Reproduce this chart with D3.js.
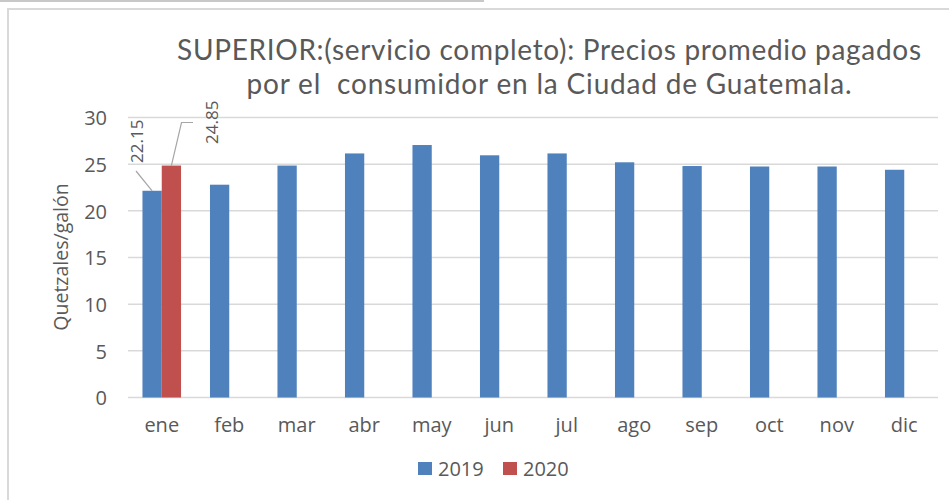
<!DOCTYPE html>
<html>
<head>
<meta charset="utf-8">
<script src="https://cdn.jsdelivr.net/npm/d3@7"></script>
<style>
  html, body { margin: 0; padding: 0; background: #fff; }
  svg { display: block; }
  text { font-family: "Open Sans", sans-serif; fill: #595959; white-space: pre; }
</style>
</head>
<body>
<svg id="chart" width="949" height="500"></svg>
<script>
// Monthly average prices (quetzales per gallon), Guatemala City
const months = ["ene", "feb", "mar", "abr", "may", "jun", "jul", "ago", "sep", "oct", "nov", "dic"];
const series = ["2019", "2020"];
const values2019 = [22.15, 22.8, 24.85, 26.15, 27.05, 25.95, 26.15, 25.2, 24.8, 24.75, 24.75, 24.4];
const values2020 = [24.85, null, null, null, null, null, null, null, null, null, null, null];
const yTicks = [0, 5, 10, 15, 20, 25, 30];
const colors = { "2019": "#4f81bd", "2020": "#c0504d" };
const titleLines = ["SUPERIOR:(servicio completo): Precios promedio pagados",
                    "por el  consumidor en la Ciudad de Guatemala."];
const titleWidths = [744, 605];
const yTitle = "Quetzales/galón";

const svg = d3.select("#chart");

// outer frame lines
svg.append("line").attr("x1", 0).attr("x2", 484).attr("y1", 1).attr("y2", 1)
  .attr("stroke", "#c8c8c8").attr("stroke-width", 2);
svg.append("rect").attr("x", 8).attr("y", 9).attr("width", 960).attr("height", 520)
  .attr("fill", "none").attr("stroke", "#d9d9d9").attr("stroke-width", 2);

const plot = { left: 128, right: 938, top: 117.5, bottom: 397.5 };

const x0 = d3.scaleBand().domain(months).range([plot.left, plot.right]).padding(0);
const groupW = x0.bandwidth() / 1.75;
const x1 = d3.scaleBand().domain(series).range([0, groupW]).padding(0);
const y = d3.scaleLinear().domain([0, 30]).range([plot.bottom, plot.top]);

// gridlines
svg.append("g").selectAll("line").data(yTicks).join("line")
  .attr("x1", plot.left).attr("x2", plot.right)
  .attr("y1", d => y(d)).attr("y2", d => y(d))
  .attr("stroke", "#d9d9d9").attr("stroke-width", 1.5);

// y axis labels
const yAxis = svg.append("g").attr("transform", `translate(${plot.left - 21},0)`)
  .call(d3.axisLeft(y).tickValues(yTicks).tickSize(0).tickPadding(0));
yAxis.select(".domain").remove();
yAxis.selectAll("text").attr("font-size", 20).attr("fill", "#595959")
  .attr("font-family", "'Open Sans', sans-serif").attr("dy", "0.36em");

// bars
const rows = months.map((m, i) => ({ month: m, vals: [
  { key: "2019", value: values2019[i] }, { key: "2020", value: values2020[i] }] }));

const groups = svg.append("g").selectAll("g").data(rows).join("g")
  .attr("transform", d => `translate(${x0(d.month) + (x0.bandwidth() - groupW) / 2},0)`);
groups.selectAll("rect").data(d => d.vals.filter(v => v.value != null)).join("rect")
  .attr("x", d => x1(d.key))
  .attr("width", x1.bandwidth())
  .attr("y", d => y(d.value))
  .attr("height", d => y(0) - y(d.value))
  .attr("fill", d => colors[d.key]);

// x axis labels
const xAxis = svg.append("g").attr("transform", "translate(0,0)")
  .call(d3.axisBottom(x0).tickSize(0).tickPadding(0));
xAxis.select(".domain").remove();
xAxis.selectAll("text").attr("font-size", 20).attr("fill", "#595959")
  .attr("font-family", "'Open Sans', sans-serif").attr("y", 432).attr("dy", 0);

// data labels for January with leader lines
const janLeft = x0("ene") + (x0.bandwidth() - groupW) / 2;
const labelSpecs = [
  { key: "2019", value: values2019[0], tx: 137, ty: 163, lead: (bx, by) => [[bx, by], [136, 171]] },
  { key: "2020", value: values2020[0], tx: 211.5, ty: 144, lead: (bx, by) => [[bx, by], [181.5, 122.5], [193, 122.5]] }
];
labelSpecs.forEach(s => {
  const bx = janLeft + x1(s.key) + x1.bandwidth() / 2;
  const by = y(s.value);
  svg.append("path").attr("d", d3.line()(s.lead(bx, by)))
    .attr("fill", "none").attr("stroke", "#a6a6a6").attr("stroke-width", 1.2);
  svg.append("text").attr("transform", `translate(${s.tx + 6},${s.ty}) rotate(-90)`)
    .attr("font-size", 17).attr("fill", "#404040")
    .text(d3.format(".2f")(s.value));
});

// y axis title
svg.append("text").attr("transform", "translate(68,257) rotate(-90)")
  .attr("text-anchor", "middle").attr("font-size", 19.5).text(yTitle);

// title (two lines, spread to their set widths)
svg.append("g").selectAll("text").data(titleLines).join("text")
  .attr("x", 549).attr("y", (d, i) => 60 + i * 34)
  .attr("text-anchor", "middle").attr("font-size", 28)
  .style("font-family", "Lato, sans-serif")
  .attr("textLength", (d, i) => titleWidths[i]).attr("lengthAdjust", "spacing")
  .text(d => d);

// legend
const legend = svg.append("g").selectAll("g").data(series).join("g")
  .attr("transform", (d, i) => `translate(${418 + i * 85},462)`);
legend.append("rect").attr("width", 14).attr("height", 13).attr("fill", d => colors[d]);
legend.append("text").attr("x", 20).attr("y", 14).attr("font-size", 20).text(d => d);
</script>
</body>
</html>
